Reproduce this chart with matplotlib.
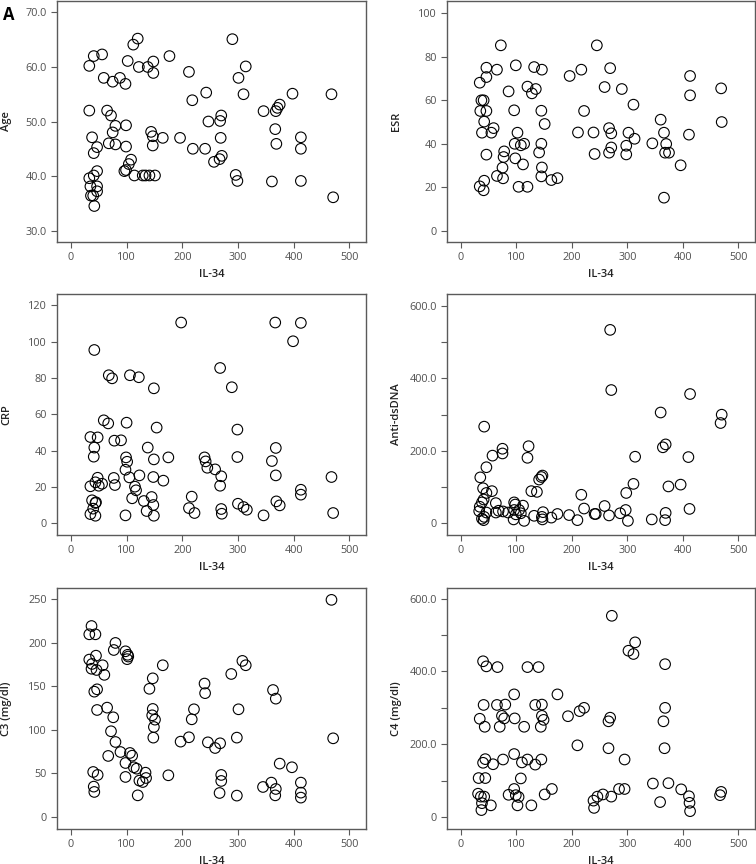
import matplotlib
matplotlib.use('Agg')
import matplotlib.pyplot as plt
from matplotlib.ticker import FixedLocator, FixedFormatter

plt.rcParams['font.family'] = ['Open Sans', 'DejaVu Sans']

# Age vs IL-34
age_x = [33, 41, 56, 33, 112, 120, 102, 122, 138, 148, 148, 59, 88, 75, 98, 177, 212, 290,
         314, 301, 310, 243, 218, 398, 468, 346, 368, 371, 375, 65, 72, 80, 75, 99, 68, 80,
         99, 38, 47, 41, 144, 147, 147, 165, 196, 219, 241, 247, 270, 268, 269, 271, 267,
         257, 296, 299, 361, 367, 369, 413, 413, 413, 471, 108, 104, 99, 96, 114, 129, 134,
         141, 151, 33, 41, 47, 35, 47, 47, 36, 40, 42]
age_y = [52.0, 62.0, 62.3, 60.2, 64.1, 65.2, 61.1, 60.0, 60.0, 61.0, 58.9, 58.0, 58.0, 57.3,
         56.9, 62.0, 59.1, 65.1, 60.1, 58.0, 55.0, 55.3, 53.9, 55.1, 55.0, 51.9, 51.9, 52.5,
         53.1, 52.0, 51.1, 49.2, 48.0, 49.3, 46.0, 45.8, 45.4, 47.1, 45.3, 44.2, 48.1, 47.3,
         45.6, 47.0, 47.0, 45.0, 45.0, 50.0, 51.1, 50.1, 47.0, 43.7, 43.1, 42.6, 40.2, 39.1,
         39.0, 48.6, 45.9, 47.1, 45.0, 39.1, 36.1, 43.0, 42.2, 41.1, 40.9, 40.1, 40.1, 40.1,
         40.1, 40.1, 39.6, 40.1, 40.9, 38.1, 38.1, 37.2, 36.4, 36.4, 34.5]

# ESR vs IL-34
esr_x = [72, 245, 46, 65, 99, 132, 146, 46, 34, 196, 217, 269, 413, 86, 120, 135, 128, 259,
         290, 469, 413, 311, 37, 41, 35, 46, 96, 145, 222, 42, 151, 360, 470, 38, 59, 55,
         102, 211, 239, 267, 271, 302, 366, 411, 313, 345, 370, 97, 108, 114, 145, 298, 271,
         141, 267, 368, 375, 241, 298, 46, 78, 77, 98, 112, 396, 75, 146, 65, 76, 145, 163,
         174, 34, 42, 41, 104, 120, 366]
esr_y = [85.3, 85.3, 75.0, 74.1, 76.1, 75.3, 74.1, 70.7, 68.1, 71.2, 74.1, 74.8, 71.2, 64.1,
         66.3, 65.2, 63.2, 66.1, 65.2, 65.5, 62.3, 58.0, 60.0, 60.0, 55.1, 55.1, 55.4, 55.2,
         55.1, 50.2, 49.1, 51.1, 50.0, 45.1, 47.2, 45.1, 45.1, 45.2, 45.2, 47.2, 44.8, 45.1,
         45.1, 44.2, 42.3, 40.2, 39.9, 40.0, 39.3, 40.0, 40.0, 39.1, 38.3, 36.0, 35.9, 35.9,
         35.9, 35.3, 35.1, 35.0, 36.5, 33.9, 33.3, 30.5, 30.1, 29.0, 29.1, 25.2, 24.1, 25.0,
         23.3, 24.2, 20.4, 23.0, 18.6, 20.2, 20.2, 15.2]

# CRP vs IL-34
crp_x = [198, 367, 413, 399, 42, 68, 74, 106, 122, 149, 268, 289, 59, 67, 100, 154, 299, 35,
         48, 78, 90, 138, 42, 368, 41, 99, 101, 149, 175, 240, 242, 245, 259, 299, 361, 98,
         105, 123, 77, 148, 166, 270, 368, 468, 48, 44, 35, 50, 56, 79, 115, 117, 268, 413,
         413, 217, 145, 110, 131, 38, 45, 44, 369, 375, 300, 310, 316, 148, 136, 212, 222,
         270, 271, 40, 35, 44, 98, 149, 346, 471]
crp_y = [110.5, 110.5, 110.3, 100.2, 95.4, 81.5, 79.8, 81.5, 80.4, 74.3, 85.5, 74.9, 56.7,
         55.0, 55.4, 52.7, 51.6, 47.5, 47.3, 45.5, 45.7, 41.7, 41.7, 41.5, 36.7, 36.3, 33.9,
         35.2, 36.3, 36.3, 34.1, 30.6, 29.7, 36.5, 34.3, 29.5, 25.3, 26.4, 25.0, 25.5, 23.5,
         25.9, 26.4, 25.5, 25.1, 22.6, 20.4, 20.7, 21.8, 21.1, 20.2, 18.2, 20.7, 18.5, 15.8,
         14.7, 14.5, 13.8, 12.3, 12.7, 11.6, 11.2, 12.1, 9.9, 10.8, 9.0, 7.5, 10.1, 6.8, 8.4,
         5.7, 7.9, 5.3, 8.1, 5.1, 4.2, 4.4, 4.2, 4.4, 5.7]

# Anti-dsDNA vs IL-34
dna_x = [269, 271, 413, 360, 470, 468, 42, 369, 364, 75, 75, 122, 120, 57, 314, 410, 46, 35,
         147, 145, 141, 311, 374, 396, 40, 56, 46, 127, 137, 217, 298, 41, 38, 63, 96, 98,
         112, 34, 222, 259, 412, 297, 33, 46, 68, 76, 85, 96, 105, 108, 148, 174, 195, 241,
         243, 267, 287, 369, 42, 63, 99, 132, 146, 163, 38, 41, 95, 114, 147, 210, 301, 344,
         368]
dna_y = [534, 368, 357, 306, 300, 277, 267, 218, 210, 206, 193, 213, 181, 187, 184, 183, 155,
         127, 132, 128, 121, 109, 102, 107, 97, 89, 84, 89, 87, 79, 84, 66, 58, 56, 58, 52,
         49, 46, 41, 48, 40, 37, 34, 30, 35, 33, 30, 37, 37, 28, 31, 26, 23, 26, 26, 22, 28,
         29, 18, 30, 25, 21, 18, 16, 13, 9, 11, 7, 11, 9, 7, 11, 9]

# C3 vs IL-34
c3_x = [468, 37, 33, 44, 80, 77, 98, 102, 103, 101, 33, 45, 38, 57, 46, 37, 60, 165, 308, 314,
        288, 147, 141, 240, 241, 363, 368, 42, 47, 47, 65, 76, 147, 146, 151, 149, 217, 221,
        301, 72, 80, 148, 197, 212, 246, 259, 268, 298, 471, 89, 106, 110, 67, 98, 113, 118,
        134, 135, 123, 129, 120, 98, 40, 48, 41, 42, 175, 270, 270, 267, 298, 345, 360, 368,
        367, 375, 397, 413, 413, 413]
c3_y = [249, 219, 209.5, 209.5, 199.6, 191.5, 190, 186, 184, 181, 180.5, 185, 175.5, 174,
        168.6, 170, 163, 174, 179, 174, 164, 159, 147, 153, 142, 145.6, 135.7, 143.7, 146.4,
        122.7, 125.4, 114.3, 123.9, 116.6, 111.6, 103.2, 112, 123.5, 123.5, 98.3, 86, 91,
        86.4, 91.4, 85.6, 79.1, 84.5, 91, 90.2, 74.5, 73.4, 70.3, 70, 61.9, 57, 55.4, 50.8,
        44.7, 41.7, 40.1, 24.8, 45.9, 51.6, 48.2, 34.8, 28.7, 47.8, 48.2, 41.3, 27.5, 24.5,
        34.4, 39.4, 32.1, 24.8, 61.2, 57, 39.4, 27.9, 22.2]

# C4 vs IL-34
c4_x = [272, 314, 302, 311, 368, 40, 46, 66, 120, 140, 96, 174, 41, 65, 80, 134, 146, 222,
        214, 368, 34, 74, 78, 97, 146, 149, 193, 269, 266, 365, 43, 70, 114, 144, 210, 266,
        367, 96, 44, 40, 76, 110, 120, 145, 58, 134, 295, 32, 44, 108, 285, 295, 346, 374,
        397, 164, 96, 31, 36, 42, 86, 99, 104, 151, 256, 246, 271, 239, 240, 467, 469, 411,
        412, 413, 359, 38, 54, 102, 127, 37]
c4_y = [553, 480, 457, 448, 420, 428, 414, 412, 412, 412, 337, 337, 308, 308, 309, 308, 309,
        300, 291, 300, 270, 278, 271, 271, 278, 267, 277, 273, 263, 263, 248, 248, 248, 248,
        197, 189, 189, 173, 159, 149, 158, 150, 158, 158, 145, 144, 158, 107, 107, 106, 77,
        77, 92, 93, 76, 77, 77, 64, 56, 56, 61, 60, 55, 62, 62, 56, 56, 45, 25, 60, 69, 57,
        39, 16, 41, 38, 32, 32, 32, 19]

panels = [
    (age_x, age_y, 'Age', (27.9, 72.1), [30, 40, 50, 60, 70], ['30.0', '40.0', '50.0', '60.0', '70.0'], None),
    (esr_x, esr_y, 'ESR', (-5.2, 105.7), [0, 20, 40, 60, 80, 100], ['0', '20', '40', '60', '80', '100'], None),
    (crp_x, crp_y, 'CRP', (-6.4, 126.2), [0, 20, 40, 60, 80, 100, 120], ['0', '20', '40', '60', '80', '100', '120'], None),
    (dna_x, dna_y, 'Anti-dsDNA', (-32, 633), [0, 200, 400, 600], ['0', '200.0', '400.0', '600.0'], [100, 300, 500]),
    (c3_x, c3_y, 'C3 (mg/dl)', (-13.8, 262.6), [0, 50, 100, 150, 200, 250], ['0', '50', '100', '150', '200', '250'], None),
    (c4_x, c4_y, 'C4 (mg/dl)', (-33, 629.4), [0, 200, 400, 600], ['0', '200.0', '400.0', '600.0'], [100, 300, 500]),
]

# axes boxes in pixels: left, top, right, bottom
boxes = [(57, 1, 366, 242), (447, 1, 755, 242),
         (57, 294, 366, 535), (447, 294, 755, 535),
         (57, 588, 366, 829), (447, 588, 755, 829)]

W, H = 756, 864
fig = plt.figure(figsize=(W / 100, H / 100), dpi=100)
frame = '#5a5a5a'
ticktxt = '#505050'

for (xs, ys, lab, ylim, yt, ytl, ymin), (l, t, r, b) in zip(panels, boxes):
    ax = fig.add_axes([l / W, 1 - b / H, (r - l) / W, (b - t) / H])
    ax.scatter(xs, ys, s=58, facecolors='none', edgecolors='black', linewidths=0.8)
    ax.set_xlim(-25, 530)
    ax.set_ylim(*ylim)
    ax.set_xticks([0, 100, 200, 300, 400, 500])
    ax.yaxis.set_major_locator(FixedLocator(yt))
    ax.yaxis.set_major_formatter(FixedFormatter(ytl))
    if ymin:
        ax.yaxis.set_minor_locator(FixedLocator(ymin))
        ax.tick_params(axis='y', which='minor', length=4.3, width=0.8, color=frame)
    ax.tick_params(which='major', length=4.3, width=0.8, color=frame, labelcolor=ticktxt,
                   labelsize=7.8, pad=3)
    for sp in ax.spines.values():
        sp.set_color(frame)
        sp.set_linewidth(1.0)
    ax.set_xlabel('IL-34', fontsize=8, fontweight='semibold', color='#222222', labelpad=4.5)
    ax.set_ylabel(lab, fontsize=8, fontweight='semibold', color='#222222')
    ax.yaxis.set_label_coords(-0.145, 0.5)

fig.text(0.004, 0.993, 'A', fontsize=12, fontweight='bold', va='top', ha='left')

plt.savefig('out.png', dpi=100)
